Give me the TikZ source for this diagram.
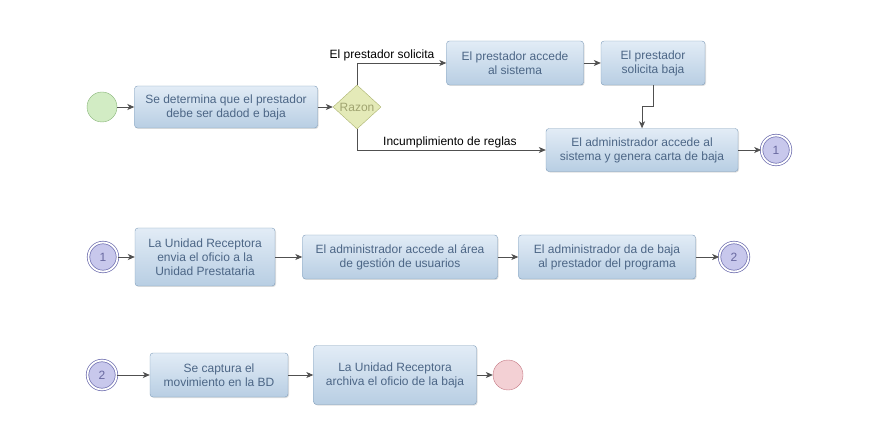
\documentclass[tikz,border=0pt]{standalone}
\usepackage{fontspec}
\setmainfont{Liberation Sans}
\usetikzlibrary{shapes.geometric, arrows, arrows.meta, positioning, shadows}
\definecolor{boxtop}{HTML}{E2ECF6}
\definecolor{boxbot}{HTML}{B8CEE3}
\definecolor{boxline}{HTML}{7F9DBA}
\definecolor{boxtext}{HTML}{4C6686}
\definecolor{linkline}{HTML}{505050}
\tikzstyle{task} = [
  rectangle,
  rounded corners=3pt,
  text centered,
  align=center,
  draw=boxline,
  top color=boxtop,
  bottom color=boxbot,
  text=boxtext,
  drop shadow={shadow xshift=1pt, shadow yshift=-1pt, opacity=0.25},
  font=\fontsize{12}{14}\selectfont,
  inner sep=2pt
]
\tikzstyle{gate} = [
  diamond,
  minimum width=48pt,
  minimum height=44pt,
  inner sep=0pt,
  draw={rgb,255:red,170;green,178;blue,110},
  fill={rgb,255:red,228;green,234;blue,184},
  text={rgb,255:red,160;green,164;blue,112},
  font=\fontsize{12}{13}\selectfont
]
\tikzstyle{start} = [
  circle,
  minimum size=30pt,
  draw={rgb,255:red,135;green,180;blue,120},
  fill={rgb,255:red,210;green,236;blue,196}
]
\tikzstyle{finish} = [
  circle,
  minimum size=30pt,
  draw={rgb,255:red,196;green,120;blue,130},
  fill={rgb,255:red,243;green,208;blue,212}
]
\tikzstyle{link} = [
  circle,
  minimum size=29pt,
  line width=0.7pt,
  draw={rgb,255:red,110;green,110;blue,175},
  double=white,
  double distance=1.8pt,
  fill={rgb,255:red,200;green,200;blue,236},
  text={rgb,255:red,105;green,105;blue,160},
  font=\fontsize{12}{13}\selectfont
]
\tikzstyle{arrow} = [line width=0.8pt, draw=linkline, ->, >={Stealth[length=7pt, width=6pt, inset=2pt]}, font=\fontsize{12}{13}\selectfont]

\begin{document}
\begin{tikzpicture}[x=1pt, y=1pt, node distance=0.9cm]
    \useasboundingbox (0,0) rectangle (872,-427);

    % first row
    \node (start-event) [start] at (102,-107) {};
    \node (decide-removal) [task, minimum width=183pt, minimum height=42pt, right of=start-event, xshift=98.4pt] {Se determina que el prestador\\debe ser dadod e baja};
    \node (reason) [gate, right of=decide-removal, xshift=105.4pt] {Razon};
    \node (user-login) [task, minimum width=137pt, minimum height=44pt, right of=reason, xshift=132.4pt, yshift=44pt] {El prestador accede\\al sistema};
    \node (user-request) [task, minimum width=104pt, minimum height=44pt, right of=user-login, xshift=112.4pt] {El prestador\\solicita baja};
    \node (admin-letter) [task, minimum width=192pt, minimum height=43pt, below of=user-request, xshift=-11pt, yshift=-61.4pt] {El administrador accede al\\sistema y genera carta de baja};
    \node (link-one-out) [link, right of=admin-letter, xshift=108.4pt] {1};

    % second row
    \node (link-one-in) [link] at (103,-257) {1};
    \node (send-letter) [task, minimum width=140pt, minimum height=58pt, right of=link-one-in, xshift=76.4pt] {La Unidad Receptora\\envia el oficio a la\\Unidad Prestataria};
    \node (admin-area) [task, minimum width=195pt, minimum height=44pt, right of=send-letter, xshift=169.4pt] {El administrador accede al área\\de gestión de usuarios};
    \node (admin-remove) [task, minimum width=177pt, minimum height=44pt, right of=admin-area, xshift=181.4pt] {El administrador da de baja\\al prestador del programa};
    \node (link-two-out) [link, right of=admin-remove, xshift=101.4pt] {2};

    % third row
    \node (link-two-in) [link] at (102,-375) {2};
    \node (capture-db) [task, minimum width=138pt, minimum height=44pt, right of=link-two-in, xshift=91.4pt] {Se captura el\\movimiento en la BD};
    \node (file-letter) [task, minimum width=163pt, minimum height=59pt, right of=capture-db, xshift=150.4pt] {La Unidad Receptora\\archiva el oficio de la baja};
    \node (end-event) [finish, right of=file-letter, xshift=87.4pt] {};

    \draw [arrow] (start-event) -- (decide-removal);
    \draw [arrow] (decide-removal) -- (reason);
    \draw [arrow] (reason.north) |- node[pos=1, anchor=south east, xshift=-10pt, inner sep=1.5pt] {El prestador solicita} (user-login);
    \draw [arrow] (reason.south) |- node[pos=0.746, anchor=south, inner sep=1.5pt] {Incumplimiento de reglas} (admin-letter);
    \draw [arrow] (user-login) -- (user-request);
    \draw [arrow] (user-request.south) -- ++(0,-21) -| (admin-letter.north);
    \draw [arrow] (admin-letter) -- (link-one-out);

    \draw [arrow] (link-one-in) -- (send-letter);
    \draw [arrow] (send-letter) -- (admin-area);
    \draw [arrow] (admin-area) -- (admin-remove);
    \draw [arrow] (admin-remove) -- (link-two-out);

    \draw [arrow] (link-two-in) -- (capture-db);
    \draw [arrow] (capture-db) -- (file-letter);
    \draw [arrow] (file-letter) -- (end-event);
  \end{tikzpicture}
\end{document}
